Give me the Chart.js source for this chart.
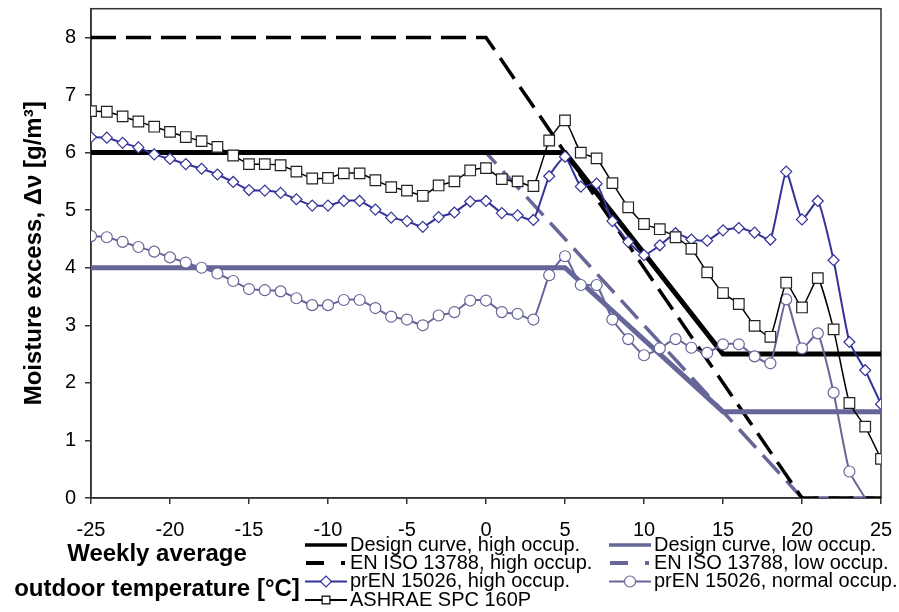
<!DOCTYPE html>
<html lang="en">
<head>
<meta charset="UTF-8">
<title>Moisture excess design curves</title>
<script src="https://cdn.jsdelivr.net/npm/chart.js"></script>
<style>
  html, body { margin: 0; padding: 0; background: #fff; }
</style>
</head>
<body>
<canvas id="moistChart" width="899" height="612"></canvas>
<script>
// weekly average outdoor temperature [C]
var temps = [-25, -24, -23, -22, -21, -20, -19, -18, -17, -16, -15, -14, -13, -12, -11, -10, -9, -8, -7, -6, -5, -4, -3, -2, -1,
             0, 1, 2, 3, 4, 5, 6, 7, 8, 9, 10, 11, 12, 13, 14, 15, 16, 17, 18, 19, 20, 21, 22, 23, 24, 25];

// measured / standard curves, moisture excess [g/m3]
var ashrae = [6.72, 6.71, 6.63, 6.54, 6.45, 6.36, 6.27, 6.20, 6.10, 5.95, 5.80, 5.80, 5.78, 5.67, 5.55, 5.56, 5.64, 5.64, 5.52, 5.40, 5.34, 5.25, 5.43, 5.50, 5.69,
              5.73, 5.54, 5.50, 5.42, 6.21, 6.56, 6.00, 5.90, 5.47, 5.05, 4.76, 4.67, 4.53, 4.33, 3.92, 3.56, 3.37, 2.99, 2.80, 3.74, 3.31, 3.82, 2.93, 1.65, 1.24, 0.68];
var prenHigh = [6.27, 6.26, 6.17, 6.09, 5.97, 5.89, 5.80, 5.72, 5.62, 5.49, 5.35, 5.34, 5.30, 5.19, 5.08, 5.08, 5.16, 5.16, 5.01, 4.87, 4.81, 4.71, 4.88, 4.96, 5.15,
                5.16, 4.95, 4.91, 4.83, 5.59, 5.93, 5.41, 5.46, 4.81, 4.45, 4.22, 4.39, 4.60, 4.49, 4.47, 4.65, 4.69, 4.61, 4.49, 5.67, 4.84, 5.16, 4.13, 2.71, 2.22, 1.63];
var prenNormal = [4.55, 4.53, 4.45, 4.36, 4.28, 4.18, 4.09, 4.00, 3.90, 3.77, 3.63, 3.61, 3.59, 3.47, 3.35, 3.35, 3.44, 3.44, 3.30, 3.15, 3.10, 3.00, 3.17, 3.23, 3.43,
                  3.43, 3.23, 3.20, 3.10, 3.87, 4.20, 3.70, 3.70, 3.10, 2.76, 2.48, 2.60, 2.76, 2.61, 2.52, 2.67, 2.67, 2.46, 2.34, 3.45, 2.60, 2.86, 1.83, 0.46, 0, null];

// design curves and EN ISO 13788 classes (break points)
var designHighX = [-25, 5, 15, 25];
var designHighY = [6, 6, 2.5, 2.5];
var designLowX = [-25, 5, 15, 25];
var designLowY = [4, 4, 1.5, 1.5];
var isoHighX = [-25, 0, 20, 25];
var isoHighY = [8, 8, 0, 0];
var isoLowX = [-25, 0, 20, 25];
var isoLowY = [6, 6, 0, 0];

var xTicks = [-25, -20, -15, -10, -5, 0, 5, 10, 15, 20, 25];
var yTicks = [0, 1, 2, 3, 4, 5, 6, 7, 8];

var yTitle = 'Moisture excess, \u0394\u03bd [g/m\u00b3]';
var xTitle = ['Weekly average', 'outdoor temperature [\u00b0C]'];

var BLACK = '#000000';
var SLATE = '#666699';
var BLUE = '#333399';
var FONT = '"Liberation Sans", Arial, sans-serif';

function pts(xs, ys) {
    return xs.map(function (x, i) { return { x: x, y: ys[i] }; });
}

// legend slots: [column, row] for each dataset
var keyPos = [[0, 0], [1, 0], [0, 1], [1, 1], [0, 2], [1, 2], [0, 3]];
var keyColX = [305, 609];
var keyRowY = [545, 563, 581.5, 600];

function drawMark(c, style, x, y, r, color, bw) {
    c.save();
    c.beginPath();
    if (style === 'rect') {
        var s = r * Math.SQRT1_2;
        c.rect(x - s, y - s, 2 * s, 2 * s);
    } else if (style === 'rectRot') {
        c.moveTo(x - r, y); c.lineTo(x, y - r); c.lineTo(x + r, y); c.lineTo(x, y + r); c.closePath();
    } else {
        c.arc(x, y, r, 0, Math.PI * 2);
    }
    c.fillStyle = '#fff';
    c.fill();
    c.lineWidth = bw;
    c.strokeStyle = color;
    c.setLineDash([]);
    c.stroke();
    c.restore();
}

var framePlugin = {
    id: 'frameAndKey',
    beforeDatasetsDraw: function (chart) {
        var c = chart.ctx, a = chart.chartArea;
        c.save();
        c.strokeStyle = '#333';
        c.lineWidth = 1.5;
        c.strokeRect(a.left, a.top, a.right - a.left, a.bottom - a.top);
        c.restore();
    },
    afterDraw: function (chart) {
        var c = chart.ctx;
        c.save();
        c.fillStyle = '#000';
        c.textAlign = 'center';
        c.textBaseline = 'middle';
        c.font = 'bold 24px ' + FONT;
        c.fillText(xTitle[0], 157, 554);
        c.fillText(xTitle[1], 157, 589);

        c.font = '20px ' + FONT;
        c.textAlign = 'left';
        chart.data.datasets.forEach(function (ds, i) {
            var x0 = keyColX[keyPos[i][0]], y = keyRowY[keyPos[i][1]];
            var x1 = x0 + 42;
            c.strokeStyle = ds.borderColor;
            c.setLineDash([]);
            if (ds.borderDash) {
                c.lineWidth = 4;
                c.beginPath();
                c.moveTo(x0 + 1, y); c.lineTo(x0 + 19, y);
                c.moveTo(x0 + 36, y); c.lineTo(x0 + 40, y);
                c.stroke();
            } else {
                c.lineWidth = ds.pointRadius ? 2 : 3.5;
                c.beginPath();
                c.moveTo(x0, y); c.lineTo(x1, y);
                c.stroke();
                if (ds.pointRadius) {
                    drawMark(c, ds.pointStyle, x0 + 21, y, 5.5, ds.borderColor, 1.2);
                }
            }
            c.fillStyle = '#000';
            c.fillText(ds.label, x1 + 3, y);
        });
        c.restore();
    }
};

Chart.defaults.font.family = FONT;

var ctx = document.getElementById('moistChart').getContext('2d');
var moistChart = new Chart(ctx, {
    type: 'line',
    data: {
        datasets: [
            { label: 'Design curve, high occup.', data: pts(designHighX, designHighY), borderColor: BLACK, borderWidth: 5, pointRadius: 0, order: 3 },
            { label: 'Design curve, low occup.', data: pts(designLowX, designLowY), borderColor: SLATE, borderWidth: 5, pointRadius: 0, order: 3 },
            { label: 'EN ISO 13788, high occup.', data: pts(isoHighX, isoHighY), borderColor: BLACK, borderWidth: 3.5, borderDash: [25, 10], pointRadius: 0, order: 4 },
            { label: 'EN ISO 13788, low occup.', data: pts(isoLowX, isoLowY), borderColor: SLATE, borderWidth: 3.5, borderDash: [25, 10], pointRadius: 0, order: 5 },
            { label: 'prEN 15026, high occup.', data: pts(temps, prenHigh), borderColor: BLUE, borderWidth: 2, tension: 0.15,
              pointStyle: 'rectRot', pointRadius: 5.5, pointBorderWidth: 1.2, pointBackgroundColor: '#fff', pointBorderColor: BLUE, order: 1 },
            { label: 'prEN 15026, normal occup.', data: pts(temps, prenNormal), borderColor: SLATE, borderWidth: 2, tension: 0.15,
              pointStyle: 'circle', pointRadius: function (c) { return c.raw && c.raw.y > 0 ? 5.5 : 0; },
              pointBorderWidth: 1.2, pointBackgroundColor: '#fff', pointBorderColor: SLATE, order: 2 },
            { label: 'ASHRAE SPC 160P', data: pts(temps, ashrae), borderColor: BLACK, borderWidth: 1.5, tension: 0.15,
              pointStyle: 'rect', pointRadius: 7.5, pointBorderWidth: 1.2, pointBackgroundColor: '#fff', pointBorderColor: '#222', order: 0 }
        ]
    },
    options: {
        responsive: false,
        animation: false,
        devicePixelRatio: 1,
        events: [],
        layout: { padding: { top: 8, right: 18, bottom: 0, left: 0 } },
        plugins: { legend: { display: false }, tooltip: { enabled: false } },
        scales: {
            x: {
                type: 'linear', min: -25, max: 25,
                afterBuildTicks: function (s) { s.ticks = xTicks.map(function (v) { return { value: v }; }); },
                afterFit: function (s) { s.height = 114; s.paddingLeft = 0; s.paddingRight = 0; },
                ticks: { color: '#000', font: { size: 20 }, padding: 14, maxRotation: 0 },
                grid: { drawOnChartArea: false, tickLength: 6, color: '#333', lineWidth: 1.5 },
                border: { color: '#333', width: 1.5 }
            },
            y: {
                min: 0, max: 8.5,
                afterBuildTicks: function (s) { s.ticks = yTicks.map(function (v) { return { value: v }; }); },
                afterFit: function (s) { s.width = 91; s.paddingTop = 0; s.paddingBottom = 0; },
                ticks: { color: '#000', font: { size: 20 }, padding: 9 },
                grid: { drawOnChartArea: false, tickLength: 6, color: '#333', lineWidth: 1.5 },
                border: { color: '#333', width: 1.5 },
                title: { display: true, text: yTitle, color: '#000', font: { size: 24, weight: 'bold' }, padding: { top: 20, bottom: 0 } }
            }
        }
    },
    plugins: [framePlugin]
});
</script>
</body>
</html>
